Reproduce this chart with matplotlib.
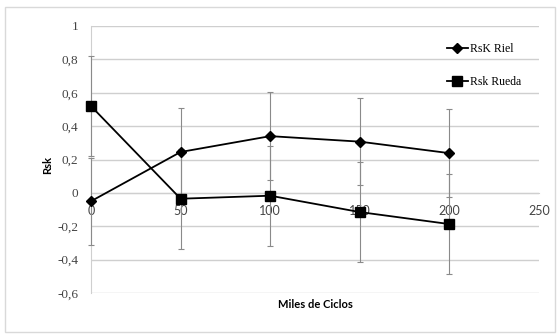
import matplotlib
matplotlib.use("Agg")
import matplotlib.pyplot as plt
from matplotlib.patches import Rectangle
from matplotlib.ticker import FuncFormatter

ciclos = [0, 50, 100, 150, 200]
rsk_riel = [-0.05, 0.245, 0.34, 0.307, 0.238]
err_riel = [0.26, 0.265, 0.265, 0.26, 0.265]
rsk_rueda = [0.52, -0.035, -0.017, -0.115, -0.187]
err_rueda = [0.30, 0.30, 0.30, 0.30, 0.30]

x_ticks = [0, 50, 100, 150, 200, 250]
y_ticks = [-0.6, -0.4, -0.2, 0, 0.2, 0.4, 0.6, 0.8, 1]

grid_col = "#cfcfcf"
bar_col = "#8a8a8a"

fig = plt.figure(figsize=(5.6, 3.35), dpi=100)
fig.patches.append(Rectangle((5 / 560, 1 - 332 / 335), 550 / 560, 325 / 335,
                             transform=fig.transFigure, fill=False,
                             edgecolor="#d9d9d9", linewidth=1.0))
ax = fig.add_axes([91 / 560, 1 - 293 / 335, 448 / 560, 267 / 335])

for y, e in [(rsk_riel, err_riel), (rsk_rueda, err_rueda)]:
    eb = ax.errorbar(ciclos, y, yerr=e, fmt="none", ecolor=bar_col,
                     elinewidth=0.8, capsize=2.5, capthick=0.8, zorder=4)
    for a in eb.lines[1] + eb.lines[2]:
        a.set_clip_on(False)
ax.plot(ciclos, rsk_riel, color="black", lw=1.3, marker="D", ms=5,
        label="RsK Riel", zorder=5, clip_on=False)
ax.plot(ciclos, rsk_rueda, color="black", lw=1.3, marker="s", ms=7,
        label="Rsk Rueda", zorder=5, clip_on=False)

ax.set_xlim(0, 250)
ax.set_ylim(-0.6, 1)
ax.set_xticks(x_ticks)
ax.set_yticks(y_ticks)
ax.yaxis.set_major_formatter(
    FuncFormatter(lambda v, p: f"{v:g}".replace(".", ",")))
ax.grid(axis="y", color=grid_col, lw=1.0)
ax.set_axisbelow(True)

for s in ["top", "right"]:
    ax.spines[s].set_visible(False)
ax.spines["left"].set_color(grid_col)
ax.spines["bottom"].set_position(("data", 0))
ax.spines["bottom"].set_color(grid_col)
ax.tick_params(axis="x", length=0, pad=9, labelsize=9, colors="#444444")
ax.tick_params(axis="y", length=0, pad=9, labelsize=9.5, colors="#444444")
for t in ax.get_xticklabels():
    t.set_family("Lato")
for t in ax.get_yticklabels():
    t.set_family("Liberation Serif")

fig.text(315 / 560, 1 - 304 / 335, "Miles de Ciclos", ha="center",
         va="center", fontsize=8, fontweight="bold", family="Lato")
fig.text(48 / 560, 1 - 165 / 335, "Rsk", ha="center", va="center",
         rotation=90, fontsize=8, fontweight="bold", family="Lato")

leg = ax.legend(loc="upper right", bbox_to_anchor=(0.985, 0.975),
                frameon=False,
                prop={"family": "Liberation Serif", "size": 8.5},
                handlelength=1.8, handletextpad=0.2, labelspacing=1.75)

fig.savefig("out.png", dpi=100)
